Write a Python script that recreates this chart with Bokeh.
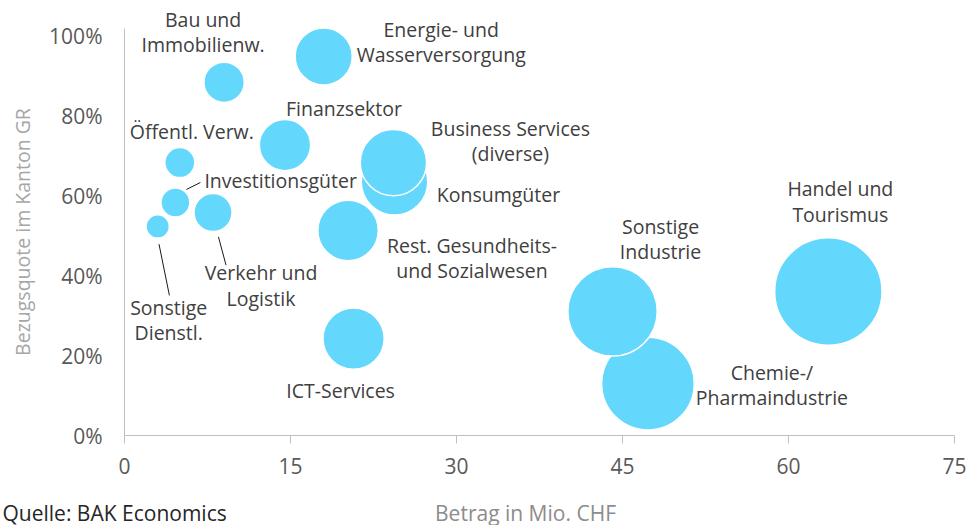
from bokeh.plotting import figure
from bokeh.models import ColumnDataSource, Label, FixedTicker, NumeralTickFormatter, Range1d
from bokeh.embed import file_html
from bokeh.resources import INLINE
import math

# ---------------- data ----------------
sectors = [
    "Bau und\nImmobilienw.",
    "Energie- und\nWasserversorgung",
    "Finanzsektor",
    "Öffentl. Verw.",
    "Investitionsgüter",
    "Sonstige\nDienstl.",
    "Verkehr und\nLogistik",
    "Business Services\n(diverse)",
    "Konsumgüter",
    "Rest. Gesundheits-\nund Sozialwesen",
    "ICT-Services",
    "Sonstige\nIndustrie",
    "Chemie-/\nPharmaindustrie",
    "Handel und\nTourismus",
]
amount = [9.0, 18.0, 14.5, 5.0, 4.6, 3.0, 8.0, 24.3, 24.4, 20.2, 20.7, 44.1, 47.3, 63.6]   # Mio. CHF (also bubble size)
share = [0.885, 0.95, 0.728, 0.684, 0.584, 0.524, 0.559, 0.684, 0.636, 0.514, 0.243, 0.311, 0.130, 0.361]

x_ticks = [0, 15, 30, 45, 60, 75]
y_ticks = [0, 0.2, 0.4, 0.6, 0.8, 1.0]
X_AXIS = (0, 75)
Y_AXIS = (0, 1.02)

# ---------------- label placement (screen px offsets from bubble centre, +dy = down) ----------------
label_dx = [-21, 117.5, 59, 12, 29, 11, 48, 117, 104, 124, -13, 48, 124, 12]
label_dy = [-50, -14, -37, -31, -22, 94, 73, -22, 13, 28, 52, -72.5, 1, -90]
label_align = ["center"] * 14
label_align[4] = "left"
# leader lines: sector index -> (dx0, dy0, dx1, dy1) in px
leaders = {4: (11, -13, 25, -20), 5: (1.3, 17.7, 11.7, 69), 6: (5.4, 24.4, 13, 52.7)}

# ---------------- layout ----------------
W, H = 969, 525
# pixel position of the axis box inside the canvas
AX_LEFT, AX_RIGHT, AX_TOP, AX_BOTTOM = 124, 954, 28, 435
ppx = (AX_RIGHT - AX_LEFT) / (X_AXIS[1] - X_AXIS[0])
ppy = (AX_BOTTOM - AX_TOP) / (Y_AXIS[1] - Y_AXIS[0])
x_start = X_AXIS[0] - AX_LEFT / ppx
x_end = X_AXIS[0] + (W - AX_LEFT) / ppx
y_start = Y_AXIS[0] - (H - AX_BOTTOM) / ppy
y_end = Y_AXIS[0] + AX_BOTTOM / ppy

BUBBLE_K = 13.46  # px diameter per sqrt(Mio. CHF)
FONT = "Open Sans"
BUBBLE = "#64d7fc"
LBL_SIZE = "19.5px"

p = figure(width=W, height=H, output_backend="svg", toolbar_location=None,
           x_range=Range1d(x_start, x_end), y_range=Range1d(y_start, y_end),
           min_border_left=0, min_border_right=0, min_border_top=0, min_border_bottom=0)
p.outline_line_color = None
p.grid.visible = False
p.background_fill_color = "white"
p.border_fill_color = "white"

# bubbles, larger first
order = sorted(range(len(amount)), key=lambda i: -amount[i])
src = ColumnDataSource(dict(
    x=[amount[i] for i in order],
    y=[share[i] for i in order],
    s=[BUBBLE_K * math.sqrt(amount[i]) for i in order],
))
p.scatter("x", "y", size="s", source=src, fill_color=BUBBLE, line_color="white",
          line_width=1.5, fill_alpha=1)

# leader lines
lx0, ly0, lx1, ly1 = [], [], [], []
for i, (a, b, c, d) in leaders.items():
    lx0.append(amount[i] + a / ppx); ly0.append(share[i] - b / ppy)
    lx1.append(amount[i] + c / ppx); ly1.append(share[i] - d / ppy)
p.segment(lx0, ly0, lx1, ly1, line_color="#1a1a1a", line_width=1)

# bubble labels
for i, t in enumerate(sectors):
    p.add_layout(Label(x=amount[i] + label_dx[i] / ppx, y=share[i] - label_dy[i] / ppy,
                       text=t, text_align=label_align[i], text_baseline="middle",
                       text_font=FONT, text_font_size=LBL_SIZE, text_color="#404040",
                       text_line_height=0.93))

# axes (drawn at fixed data locations inside the full-canvas frame)
xa = p.xaxis[0]
xa.fixed_location = Y_AXIS[0]
xa.bounds = X_AXIS
xa.ticker = FixedTicker(ticks=x_ticks)
xa.axis_line_color = "#bfbfbf"
xa.major_tick_line_color = "#bfbfbf"
xa.major_tick_out = 8
xa.major_tick_in = 0
xa.minor_tick_line_color = None
xa.major_label_text_font = FONT
xa.major_label_text_font_size = "21px"
xa.major_label_text_color = "#595959"
xa.major_label_standoff = 14

ya = p.yaxis[0]
ya.fixed_location = X_AXIS[0]
ya.bounds = Y_AXIS
ya.ticker = FixedTicker(ticks=y_ticks)
ya.formatter = NumeralTickFormatter(format="0%")
ya.axis_line_color = "#bfbfbf"
ya.major_tick_line_color = None
ya.minor_tick_line_color = None
ya.major_tick_out = 0
ya.major_tick_in = 0
ya.major_label_text_font = FONT
ya.major_label_text_font_size = "21px"
ya.major_label_text_color = "#595959"
ya.major_label_standoff = 22
ya.axis_label = "Bezugsquote im Kanton GR"
ya.axis_label_text_font = FONT
ya.axis_label_text_font_size = "19.5px"
ya.axis_label_text_font_style = "normal"
ya.axis_label_text_color = "#a6a6a6"
ya.axis_label_standoff = 10

# bottom texts
BOTTOM_Y = Y_AXIS[0] - (512 - AX_BOTTOM) / ppy
p.add_layout(Label(x=X_AXIS[0] + (525 - AX_LEFT) / ppx, y=BOTTOM_Y,
                   text="Betrag in Mio. CHF", text_align="center", text_baseline="middle",
                   text_font=FONT, text_font_size="21px", text_color="#8c8c8c"))
p.add_layout(Label(x=X_AXIS[0] + (2 - AX_LEFT) / ppx, y=BOTTOM_Y,
                   text="Quelle: BAK Economics", text_align="left", text_baseline="middle",
                   text_font=FONT, text_font_size="21px", text_color="#262626"))

open("out.html", "w").write(file_html(p, INLINE))
